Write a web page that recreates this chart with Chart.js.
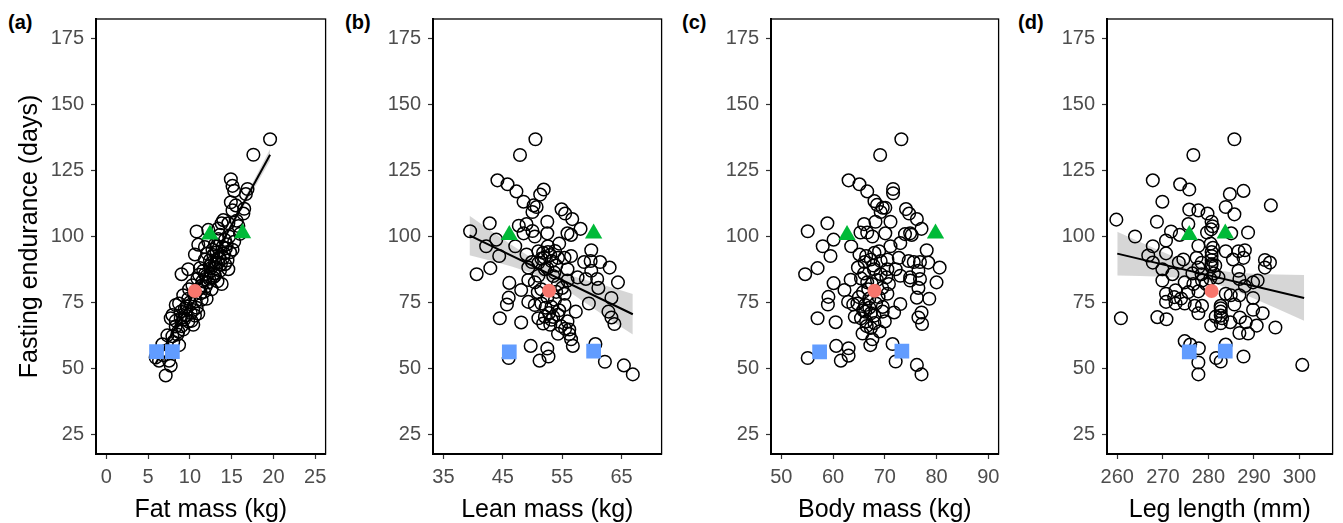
<!DOCTYPE html>
<html>
<head>
<meta charset="utf-8">
<script src="https://cdn.jsdelivr.net/npm/chart.js@4.4.0/dist/chart.umd.min.js"></script>
<style>
body { margin: 0; background: #fff; width: 1343px; height: 523px; position: relative; overflow: hidden; font-family: "Liberation Sans", Arial, sans-serif; }
canvas { position: absolute; top: 0; }
.tag { position: absolute; top: 12px; font-weight: bold; font-size: 20px; line-height: 20px; color: #000; }
</style>
</head>
<body>
<div class="tag" style="left:8px">(a)</div>
<div class="tag" style="left:345px">(b)</div>
<div class="tag" style="left:682px">(c)</div>
<div class="tag" style="left:1018px">(d)</div>
<canvas id="pa" width="336" height="523" style="left:0px"></canvas>
<canvas id="pb" width="332" height="523" style="left:340px"></canvas>
<canvas id="pc" width="333" height="523" style="left:676px"></canvas>
<canvas id="pd" width="331" height="523" style="left:1012px"></canvas>
<script>
// tick labels
var yTicks = [25, 50, 75, 100, 125, 150, 175];
var fatTicks = [0, 5, 10, 15, 20, 25];
var leanTicks = [35, 45, 55, 65];
var bodyTicks = [50, 60, 70, 80, 90];
var legTicks = [260, 270, 280, 290, 300];

// individuals: [x, fasting endurance]
var fatPts = [[19.6,136.9],[17.6,131],[14.9,121.7],[15.1,119.2],[15.3,117.3],[16.9,118],[16.7,116.1],[14.9,113],[15.5,111.8],
  [15.1,109.9],[16.5,110.5],[16.4,108.7],[14.0,106.2],[13.8,105],[14.6,105],[12.2,102.5],[10.8,101.9],[13.6,100.6],[14.2,98.7],
  [11.0,96.9],[10.6,93.2],[13.2,96.3],[15.1,95],[11.8,91.3],[12.4,88.8],[13.4,90.1],[14.2,89.5],[14.6,87.6],[9.8,87.6],[9.0,85.7],
  [11.8,85.7],[13.0,85.1],[13.8,82],[12.2,82.6],[11.4,81.4],[9.2,77.7],[9.8,76.4],[12.0,76.4],[8.7,74.6],[8.3,74.0],[9.4,72.7],
  [10.4,72.1],[11.0,70.8],[7.9,70.2],[8.9,69.0],[7.7,69.0],[9.8,67.8],[10.4,66.5],[8.3,65.9],[9.2,64.7],[8.5,62.8],[7.9,62.2],
  [8.7,58.8],[6.7,59.1],[7.1,56.6],[7.5,52.9],[6.3,52.9],[7.7,51],[7.1,47.3],[5.9,54.1],
  [10.0,75],[10.5,78],[11.0,80],[11.5,83],[12.0,85],[12.5,88],[13.0,90],[13.5,92],[12.8,93],[13.2,94],[14.0,92],[14.5,91],
  [11.2,88],[12.4,91],[13.6,87],[10.8,73],[11.4,76],[12.6,80],[9.5,70],[10.2,68],[9.0,66],[8.6,64],[11.8,96],[12.2,98],
  [13.0,97],[14.8,94],[15.3,98],[15.8,104],[16.0,101],[13.4,103],[12.9,86],[13.3,83],[11.7,79],[10.9,84],[14.3,95.5],[12.7,95],
  [9.6,73.5],[10.1,71],[10.7,75.5],[11.3,78.5],[11.9,81],[12.3,84],[12.8,84.5],[13.1,88],[13.7,89.5],[14.1,93.5],[14.4,97],
  [12.6,90],[11.6,87],[11.1,85.5],[10.3,81.5],[9.9,80],[13.9,96],[12.1,93.5],[14.7,100],[15.6,106],[13.4,99],[8.9,71.5],
  [9.3,68.5],[10.6,70],[8.0,60],[7.3,62.5],[6.8,55],[8.3,68]];

var leanPts = [[50.5,136.9],[47.9,130.9],[44.1,121.3],[45.8,119.8],[47.3,117.1],[51.9,117.8],[51.3,115.9],[48.5,113.2],[50.2,111.8],
  [50.7,111.2],[50.0,109.3],[54.9,110.3],[55.5,108.7],[56.7,106.6],[52.5,105.6],[58.1,102.9],[49.0,104.7],[47.7,104.1],[48.5,101.2],
  [50.0,102.1],[52.5,101.2],[50.4,100],[55.9,101.2],[56.5,100.6],[42.8,105],[39.5,102],[43.9,98.8],[42.2,96.3],[44.4,92.6],[42.9,88],
  [40.6,85.7],[47.1,96.3],[52.6,96.3],[54.5,97.3],[59.9,94.8],[49.0,93.2],[51.0,94.4],[51.8,93.8],[52.6,94.1],[49.9,90.3],[51.5,91.6],
  [53.2,90.7],[54.3,91.9],[55.4,91.9],[56.5,92.6],[58.7,90.3],[59.8,90.7],[61.4,90.3],[63.0,88.2],[49.3,88.2],[52.1,87.6],[53.7,86.3],
  [55.9,87.6],[59.9,87],[51.0,85.1],[57.6,84.5],[59.0,83.9],[60.9,83.9],[46.1,82.4],[49.3,83.5],[50.4,82.6],[54.3,82.0],[64.4,82.6],
  [55.9,83.3],[48.1,79.7],[50.9,78.9],[55.4,78.3],[61.1,80.5],[59.5,74.6],[63.3,76.7],[46.0,76.8],[45.7,74.2],[49.3,75.2],[50.4,74.0],
  [51.5,74.6],[53.2,73.3],[55.4,74],[57.3,71.5],[62.8,71.5],[63.3,69.3],[63.8,66.8],[44.5,69.0],[48.1,67.4],[51.0,69.0],[52.1,69.6],
  [53.2,68.4],[54.3,70.3],[55.9,67.8],[54.3,63.1],[56.2,64.7],[56.5,61.0],[56.8,58.5],[49.7,58.5],[52.5,57.5],[52.7,54.5],[51.2,52.9],
  [46.0,53.9],[60.6,59.2],[62.2,52.5],[65.4,51.1],[66.9,47.7],
  [52.0,92],[53.0,93],[54.0,89],[52.5,88],[53.5,85],[51.5,80],[52.5,77],[53.8,76],[54.5,72],[52.8,71],[53.5,69.5],[54.8,66],
  [55.5,65],[56.2,63],[51.8,67],[53.0,66.5],[51.0,90],[53.8,94.5],[55.0,80.5],[52.2,73],[54.0,79]];

var bodyPts = [[73.2,136.9],[69.1,130.9],[63.0,121.3],[65.1,119.8],[66.6,117.1],[71.6,118],[71.6,116.4],[68.0,113.4],[68.5,112],
  [69.6,110.9],[70.1,110.9],[69.2,109.3],[74.1,110.4],[74.7,108.7],[76.2,106.6],[71.1,105.6],[77.1,102.9],[68.2,105.6],[66.0,104.7],
  [65.3,101.5],[66.6,101.5],[67.6,100],[70.1,101.2],[74.9,101.2],[75.2,100.6],[73.9,100.9],[58.9,105],[55.1,102],[60.1,98.8],
  [58.0,96.3],[59.5,92.6],[57.0,88],[54.6,85.7],[63.5,96.3],[71.1,96.3],[73.0,97.5],[78.1,94.8],[65.1,93.2],[66.4,92.6],[68.0,93.8],
  [68.9,94.4],[66.1,90.3],[67.3,91.3],[69.2,90.7],[70.5,91.3],[72.7,91.9],[74.6,90.7],[75.6,90.3],[76.8,90.3],[78.4,90.1],[80.6,88.2],
  [64.8,88.2],[67.9,87.6],[70.5,87.6],[72.1,87.6],[76.5,87.0],[69.2,85.7],[73.0,85.1],[74.9,84.5],[76.8,83.9],[63.4,83.6],[65.4,84.1],
  [66.6,82.6],[60.1,82.3],[70.8,82.0],[80.0,82.6],[74.9,83.3],[62.2,79.7],[65.8,78.9],[70.5,78.3],[76.5,80.5],[76.2,76.8],[78.6,76.4],
  [59.1,77.1],[59.0,74.2],[62.9,75.2],[63.9,74.2],[64.7,74.6],[66.2,74.0],[68.3,74.6],[69.6,73.3],[73.0,74.4],[64.2,69.6],[66.2,71.5],
  [67.3,70.9],[69.6,71.5],[71.8,71.2],[77.1,71.2],[76.5,69.3],[77.2,66.8],[57.0,69.0],[60.5,67.5],[65.4,69.0],[66.4,67.8],[68.0,67.2],
  [70.0,67.8],[67.3,65.3],[65.7,63.2],[67.6,61.0],[67.2,58.8],[60.6,58.5],[63.0,57.6],[63.0,54.8],[61.5,52.9],[55.1,53.9],[71.5,59.2],
  [72.1,52.6],[76.2,51.3],[77.1,47.7],
  [66.8,80],[67.5,82],[68.5,83.5],[69.5,80.5],[66,86],[67,73],[68,70],[66.5,66],[69,64],[65,77],[67.8,89],[67.0,76.5],[68.8,77],
  [65.8,72],[70.3,84.5]];

var legPts = [[285.7,136.9],[276.7,130.9],[267.8,121.3],[273.8,119.8],[275.8,117.8],[287.7,117.3],[284.7,116.1],[269.9,113.2],
  [293.7,111.8],[275.8,110.2],[277.8,109.9],[279.8,108.7],[283.8,111.2],[285.7,108.4],[259.8,106.4],[268.7,105.6],[280.7,105.6],
  [280.9,103.9],[275.6,104.7],[271.8,101.9],[273.7,100.6],[279.7,101.5],[280.6,102.7],[285.0,101.2],[288.7,101.5],[263.9,100],
  [270.7,98.5],[267.8,96.3],[277.8,96.5],[280.5,97.3],[281.0,95.7],[283.8,94.4],[286.6,94.4],[288.0,94.8],[266.8,92.8],[270.7,93.6],
  [274.5,91.3],[277.4,91.9],[280.7,92.6],[285.4,91.3],[287.7,91.9],[292.4,91.1],[293.5,90.1],[267.8,90.1],[273.5,90.1],[269.9,87.6],
  [277.8,88.2],[280.6,88.8],[292.4,88.2],[272.1,85.7],[278.5,85.7],[286.6,87],[282.2,84.5],[286.8,83.9],[289.8,82.6],[290.8,83.3],
  [269.9,83.3],[274.8,82.6],[276.7,82.0],[278.6,83.3],[288.0,81.2],[270.7,78.3],[272.8,79.6],[275.6,78.9],[277.8,79.2],[283.8,78.3],
  [284.9,77.7],[286.8,77.7],[289.8,76.7],[270.7,75.2],[272.8,74.6],[274.8,74.6],[277.0,73.7],[278.6,73.7],[282.7,73.7],[285.7,74.2],
  [277.8,70.9],[282.7,71.5],[289.8,72.2],[291.9,70.9],[260.8,69.0],[268.8,69.4],[270.8,68.6],[281.6,69.6],[283.0,69.0],[284.8,67.5],
  [286.9,69.3],[288.2,67.5],[280.6,66.2],[282.7,67.1],[290.6,66.2],[294.7,65.5],[286.8,63.4],[288.7,63.2],[274.8,60.3],[276.0,59.0],
  [277.9,57.6],[283.8,59.0],[281.7,53.9],[282.7,52.6],[287.7,54.5],[277.8,52.2],[277.8,47.7],[300.6,51.3],
  [280.7,94.1],[280.7,91.1],[280.7,89.5],[282.7,72.8],[282.7,70.0],[281.2,86],[280.4,84],[279.5,82],[281.5,89],[278.5,90],
  [276.5,86],[272.5,77],[274,76.5]];

// highlighted individuals: mean, two greens, two blues
var fatMean = [[10.6, 79.3]], fatGreen = [[12.4, 100.8], [16.3, 101.2]], fatBlue = [[6.0, 56.3], [7.9, 56.3]];
var leanMean = [[52.8, 79.4]], leanGreen = [[46.1, 100.6], [60.3, 101.1]], leanBlue = [[46.1, 56.2], [60.3, 56.5]];
var bodyMean = [[68.0, 79.4]], bodyGreen = [[62.7, 100.6], [79.8, 101.1]], bodyBlue = [[57.4, 56.2], [73.3, 56.5]];
var legMean = [[280.7, 79.3]], legGreen = [[275.8, 100.6], [283.7, 101.1]], legBlue = [[275.8, 56.2], [283.7, 56.5]];

// fitted lines and confidence bands
var fatFitX = [5.9, 19.6], fatFitY = [51.8, 131.0];
var fatBandX = [5.9, 8, 10.5, 13, 15, 17.5, 19.6];
var fatBandLo = [49.8, 62.6, 77.5, 91.9, 103.3, 117.2, 128.8];
var fatBandHi = [53.8, 65.2, 79.3, 93.7, 105.5, 120.4, 133.2];

var leanFitX = [39.4, 66.9], leanFitY = [100.4, 70.5];
var leanBandX = [39.4, 43, 46.5, 50, 53, 56, 60, 63.5, 66.9];
var leanBandLo = [92.9, 90.8, 88.6, 86.1, 83.1, 79.3, 73.2, 67.8, 62.8];
var leanBandHi = [107.9, 102.2, 96.8, 91.7, 88.1, 85.5, 82.8, 80.6, 78.2];

var legFitX = [260, 301], legFitY = [93.5, 76.7];
var legBandX = [260, 265, 270, 275, 280, 285, 290, 295, 301];
var legBandLo = [85.2, 85.0, 84.7, 84.15, 82.8, 80.05, 76.5, 72.7, 68.0];
var legBandHi = [101.8, 97.9, 94.1, 90.55, 87.8, 86.45, 85.9, 85.6, 85.4];

var FONT = '"Liberation Sans", Arial, sans-serif';

function toXY(pairs) { return pairs.map(function (p) { return {x: p[0], y: p[1]}; }); }
function zipXY(xs, ys) { return xs.map(function (x, i) { return {x: x, y: ys[i]}; }); }

// panel border (top/right sides)
var boxPlugin = {
  id: 'box',
  afterDraw: function (chart) {
    var a = chart.chartArea, ctx = chart.ctx;
    ctx.save();
    ctx.strokeStyle = '#000';
    ctx.lineWidth = 1.3;
    ctx.strokeRect(a.left, a.top, a.right - a.left, a.bottom - a.top);
    ctx.restore();
  }
};

function makePanel(c) {
  var ds = [];
  ds.push({data: toXY(c.blue), pointStyle: 'rect', pointRadius: 10.4, backgroundColor: '#619CFF', borderWidth: 0, order: 0});
  ds.push({data: toXY(c.green), pointStyle: 'triangle', pointRadius: 10, backgroundColor: '#00BA38', borderWidth: 0, order: 1});
  ds.push({data: toXY(c.mean), pointStyle: 'circle', pointRadius: 7, backgroundColor: '#F8766D', borderWidth: 0, order: 2});
  if (c.fitX) {
    ds.push({type: 'line', data: zipXY(c.fitX, c.fitY), showLine: true, pointRadius: 0, borderColor: '#000', borderWidth: 2, fill: false, order: 3});
  }
  ds.push({data: toXY(c.pts), pointStyle: 'circle', pointRadius: 6.3, borderWidth: 1.5, borderColor: '#000', backgroundColor: 'rgba(0,0,0,0)', order: 4});
  if (c.bandX) {
    ds.push({type: 'line', data: zipXY(c.bandX, c.bandLo), showLine: true, pointRadius: 0, borderWidth: 0, borderColor: 'rgba(0,0,0,0)', fill: false, order: 5});
    ds.push({type: 'line', data: zipXY(c.bandX, c.bandHi), showLine: true, pointRadius: 0, borderWidth: 0, borderColor: 'rgba(0,0,0,0)', fill: '-1', backgroundColor: 'rgba(153,153,153,0.4)', order: 6});
  }

  new Chart(document.getElementById(c.id), {
    type: 'scatter',
    data: {datasets: ds},
    plugins: [boxPlugin],
    options: {
      responsive: false,
      animation: false,
      events: [],
      layout: {padding: {top: 12, right: c.padR, bottom: 0, left: 0}},
      plugins: {legend: {display: false}, tooltip: {enabled: false}},
      scales: {
        x: {
          type: 'linear', min: c.xMin, max: c.xMax,
          afterBuildTicks: function (s) { s.ticks = c.xTicks.map(function (v) { return {value: v}; }); },
          afterFit: function (s) { s.height = 69; },
          grid: {drawOnChartArea: false, drawTicks: true, tickLength: 5, tickColor: '#333', tickWidth: 1.2},
          border: {display: true, color: '#000', width: 2},
          ticks: {color: '#4d4d4d', font: {size: 20, family: FONT}, padding: 6, maxRotation: 0, autoSkip: false},
          title: {display: true, text: c.xTitle, color: '#000', font: {size: 25, family: FONT, lineHeight: 1}, padding: {top: 0, bottom: 0}}
        },
        y: {
          type: 'linear', min: 17.5, max: 182.5,
          afterBuildTicks: function (s) { s.ticks = yTicks.map(function (v) { return {value: v}; }); },
          afterFit: function (s) { s.width = c.yWidth; },
          grid: {drawOnChartArea: false, drawTicks: true, tickLength: 5, tickColor: '#333', tickWidth: 1.2},
          border: {display: true, color: '#000', width: 2},
          ticks: {color: '#4d4d4d', font: {size: 20, family: FONT}, padding: 7, autoSkip: false},
          title: {display: !!c.yTitle, text: c.yTitle || '', color: '#000', font: {size: 25, family: FONT, lineHeight: 1}, padding: {top: 18, bottom: 0}}
        }
      }
    }
  });
}

makePanel({id: 'pa', pts: fatPts, mean: fatMean, green: fatGreen, blue: fatBlue,
  fitX: fatFitX, fitY: fatFitY, bandX: fatBandX, bandLo: fatBandLo, bandHi: fatBandHi,
  xMin: -1.25, xMax: 26.25, xTicks: fatTicks, xTitle: 'Fat mass (kg)', yTitle: 'Fasting endurance (days)', yWidth: 96, padR: 8});
makePanel({id: 'pb', pts: leanPts, mean: leanMean, green: leanGreen, blue: leanBlue,
  fitX: leanFitX, fitY: leanFitY, bandX: leanBandX, bandLo: leanBandLo, bandHi: leanBandHi,
  xMin: 33.25, xMax: 71.75, xTicks: leanTicks, xTitle: 'Lean mass (kg)', yWidth: 93, padR: 7});
makePanel({id: 'pc', pts: bodyPts, mean: bodyMean, green: bodyGreen, blue: bodyBlue,
  xMin: 48, xMax: 92, xTicks: bodyTicks, xTitle: 'Body mass (kg)', yWidth: 95, padR: 7});
makePanel({id: 'pd', pts: legPts, mean: legMean, green: legGreen, blue: legBlue,
  fitX: legFitX, fitY: legFitY, bandX: legBandX, bandLo: legBandLo, bandHi: legBandHi,
  xMin: 257.75, xMax: 307.25, xTicks: legTicks, xTitle: 'Leg length (mm)', yWidth: 95, padR: 4});
</script>
</body>
</html>
